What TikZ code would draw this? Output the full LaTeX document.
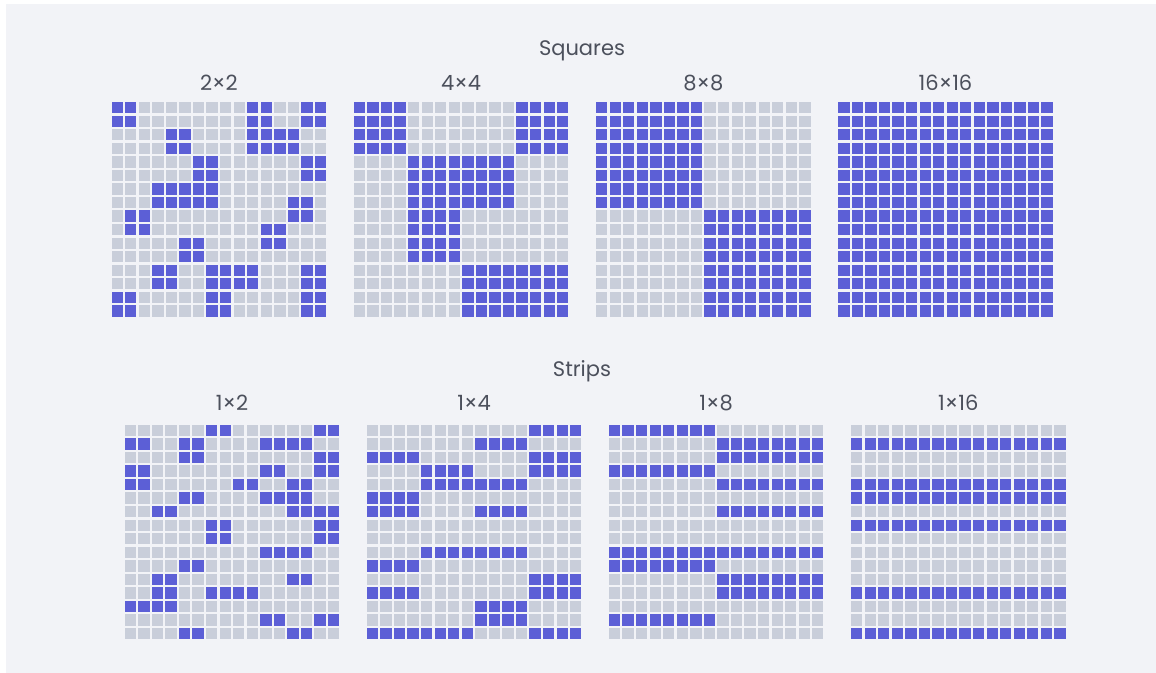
\documentclass[tikz,border=0pt]{standalone}
\usepackage{fontspec}
\setmainfont{Poppins}
\usepackage{xcolor}
\usepackage{tikz}
\usetikzlibrary{positioning}

\definecolor{maskblue}{HTML}{5C5FD6}
\definecolor{cellgrey}{HTML}{C9CEDA}
\definecolor{panelbg}{HTML}{F2F3F7}
\definecolor{labelgrey}{HTML}{4C505C}

\begin{document}
\begin{tikzpicture}[
    x=1pt, y=-1pt,
    grey cell/.style={fill=cellgrey},
    blue cell/.style={fill=maskblue},
    title label/.style={anchor=base, text=labelgrey, font=\fontsize{21}{25}\selectfont},
    grid label/.style={anchor=base, text=labelgrey, font=\fontsize{21}{25}\selectfont}
]
    \useasboundingbox (0,0) rectangle (1156,672);
    \fill[white] (-4,-4) rectangle (1160,676);
    \fill[panelbg] (6,4) rectangle (1162,678);

    % titles
    \node[title label] (squares) at (582,55) {Squares};
    \node[title label] (strips) at (582,376) {Strips};

    \foreach \i/\lab in {0/2×2, 1/4×4, 2/8×8, 3/16×16}
      \node[grid label] (sq-\i) at ({218.9+\i*242.2}, 90) {\lab};
    \foreach \i/\lab in {0/1×2, 1/1×4, 2/1×8, 3/1×16}
      \node[grid label] (st-\i) at ({232+\i*242.1}, 410) {\lab};

    % grey cells of all eight grids
    \foreach \gx/\gy in {111.6/102, 353.8/102, 596/102, 838.2/102,
                         124.7/424.7, 366.8/424.7, 608.9/424.7, 851/424.7}
      \foreach \r in {0,...,15}
        \foreach \c in {0,...,15}
          \fill[grey cell] ({\gx+\c*13.55}, {\gy+\r*13.55}) rectangle ++(11.3,11.3);

    % 2x2
    \begin{scope}[shift={(111.6,102)}]
      \foreach \ra/\rb/\ca/\cb in {0/1/0/1, 0/1/10/11, 0/1/14/15, 2/3/4/5, 2/3/10/13,
          4/5/6/7, 4/5/14/15, 6/7/3/7, 7/8/13/14, 8/9/1/2, 9/10/11/12, 10/11/5/6,
          12/13/3/4, 12/13/7/10, 12/15/14/15, 14/15/0/1, 14/15/7/8}
        \foreach \r in {\ra,...,\rb}
          \foreach \c in {\ca,...,\cb}
            \fill[blue cell] (\c*13.55, \r*13.55) rectangle ++(11.3,11.3);
    \end{scope}
    % 4x4
    \begin{scope}[shift={(353.8,102)}]
      \foreach \ra/\rb/\ca/\cb in {0/3/0/3, 0/3/12/15, 4/7/4/11, 8/11/4/7, 12/15/8/15}
        \foreach \r in {\ra,...,\rb}
          \foreach \c in {\ca,...,\cb}
            \fill[blue cell] (\c*13.55, \r*13.55) rectangle ++(11.3,11.3);
    \end{scope}
    % 8x8
    \begin{scope}[shift={(596,102)}]
      \foreach \ra/\rb/\ca/\cb in {0/7/0/7, 8/15/8/15}
        \foreach \r in {\ra,...,\rb}
          \foreach \c in {\ca,...,\cb}
            \fill[blue cell] (\c*13.55, \r*13.55) rectangle ++(11.3,11.3);
    \end{scope}
    % 16x16
    \begin{scope}[shift={(838.2,102)}]
      \foreach \r in {0,...,15}
        \foreach \c in {0,...,15}
          \fill[blue cell] (\c*13.55, \r*13.55) rectangle ++(11.3,11.3);
    \end{scope}

    % 1x2
    \begin{scope}[shift={(124.7,424.7)}]
      \foreach \ra/\rb/\ca/\cb in {0/0/6/7, 0/0/14/15, 1/1/0/1, 1/1/4/5, 1/1/10/13,
          2/2/4/5, 2/2/14/15, 3/4/0/1, 3/3/10/11, 3/3/14/15, 4/4/8/9, 4/4/12/13,
          5/5/4/5, 5/5/10/13, 6/6/2/3, 6/6/12/15, 7/8/6/7, 7/8/14/15, 9/9/10/13,
          10/10/4/5, 11/12/2/3, 11/11/12/13, 12/12/6/9, 13/13/0/3, 14/14/10/11,
          14/14/14/15, 15/15/4/5, 15/15/12/13}
        \foreach \r in {\ra,...,\rb}
          \foreach \c in {\ca,...,\cb}
            \fill[blue cell] (\c*13.55, \r*13.55) rectangle ++(11.3,11.3);
    \end{scope}
    % 1x4
    \begin{scope}[shift={(366.8,424.7)}]
      \foreach \ra/\rb/\ca/\cb in {0/0/12/15, 1/1/8/11, 2/3/12/15, 2/2/0/3, 3/3/4/7,
          4/4/4/11, 5/6/0/3, 6/6/8/11, 9/9/4/11, 10/10/0/3, 11/12/12/15, 12/12/0/3,
          13/14/8/11, 15/15/0/7, 15/15/12/15}
        \foreach \r in {\ra,...,\rb}
          \foreach \c in {\ca,...,\cb}
            \fill[blue cell] (\c*13.55, \r*13.55) rectangle ++(11.3,11.3);
    \end{scope}
    % 1x8
    \begin{scope}[shift={(608.9,424.7)}]
      \foreach \ra/\rb/\ca/\cb in {0/0/0/7, 1/2/8/15, 3/3/0/7, 4/4/8/15, 6/6/8/15,
          9/9/0/15, 10/10/0/7, 11/12/8/15, 14/14/0/7}
        \foreach \r in {\ra,...,\rb}
          \foreach \c in {\ca,...,\cb}
            \fill[blue cell] (\c*13.55, \r*13.55) rectangle ++(11.3,11.3);
    \end{scope}
    % 1x16
    \begin{scope}[shift={(851,424.7)}]
      \foreach \r in {1,4,5,7,12,15}
        \foreach \c in {0,...,15}
          \fill[blue cell] (\c*13.55, \r*13.55) rectangle ++(11.3,11.3);
    \end{scope}
\end{tikzpicture}
\end{document}
